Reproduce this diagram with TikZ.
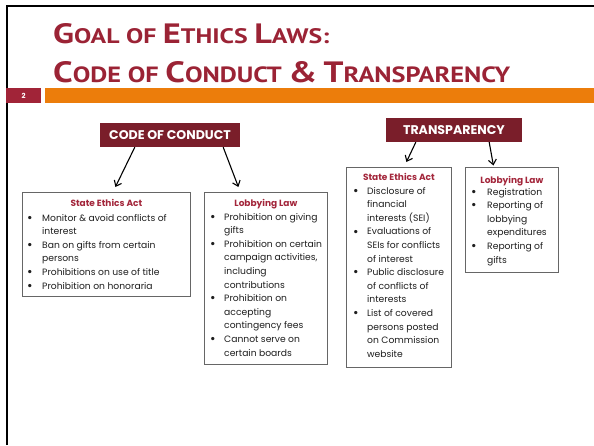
\documentclass[tikz,border=0pt]{standalone}
\usepackage{fontspec}
\setmainfont{Poppins}
\newfontfamily\titlefont{PT Sans}
\usepackage{graphicx}
\usetikzlibrary{calc,arrows.meta,positioning}

\definecolor{titlered}{HTML}{9B2335}
\definecolor{hdrfill}{HTML}{7A1E2A}
\definecolor{hdrred}{HTML}{A3263B}
\definecolor{barorange}{HTML}{EC7D0B}
\definecolor{numred}{HTML}{A12438}
\definecolor{boxgray}{HTML}{666666}
\definecolor{bodytext}{HTML}{1E1E1E}

% fake small caps for the slide title
\newcommand{\tsc}[2]{{\fontsize{26}{26}\selectfont #1}{\fontsize{19.5}{20}\selectfont #2}}
\newcommand{\bl}{\raisebox{-0.25ex}{\scalebox{1.45}{\textbullet}}}

\begin{document}
\begin{tikzpicture}[x=1pt,y=-1pt,
    heading/.style={fill=hdrfill, text=white, font=\fontsize{12.6}{12.6}\selectfont\bfseries, inner sep=0pt},
    lawbox/.style={draw=boxgray, line width=0.8pt, fill=white, anchor=north west, inner sep=0pt},
    lawhead/.style={anchor=base, text=hdrred, font=\fontsize{9}{10}\selectfont\bfseries, inner sep=0pt},
    lawlist/.style={anchor=base west, text=bodytext, font=\fontsize{9.2}{13.6}\selectfont, inner sep=0pt},
    ttl/.style={anchor=base west, inner sep=0pt, text=titlered, font=\titlefont\bfseries\fontsize{19.5}{20}\selectfont},
    arr/.style={-{Straight Barb[length=5pt,width=8pt]}, line width=1.1pt}]

    \useasboundingbox (0,0) rectangle (594,445);
    \draw[line width=2pt] (7,445) -- (7,6) -- (594,6); % slide frame

    % title
    \node[ttl] (title1) at (53,43)
        {\resizebox{276pt}{20pt}{\tsc{G}{OAL} \tsc{}{OF} \tsc{E}{THICS} \tsc{L}{AWS:}}};
    \node[ttl] (title2) at (53,82)
        {\resizebox{457pt}{21pt}{\tsc{C}{ODE} \tsc{}{OF} \tsc{C}{ONDUCT} \tsc{\&}{} \tsc{T}{RANSPARENCY}}};
    \node[fill=numred, text=white, minimum width=35pt, minimum height=15pt, inner sep=0pt,
        font=\fontsize{7}{7}\selectfont\bfseries] (slidenum) at (23.5,95.5) {2};
    \fill[barorange] (45,88) rectangle (594,103); % title bar

    % two headings
    \node[heading, minimum width=140pt, minimum height=24pt] (conduct) at (170,135) {CODE OF CONDUCT};
    \node[heading, minimum width=136pt, minimum height=24pt] (transp) at (454,130) {TRANSPARENCY};

    % boxes
    \node[lawbox, minimum width=168pt, minimum height=104pt] (seacode) at (22,192) {};
    \node[lawbox, minimum width=123pt, minimum height=172pt] (lobcode) at (204,192) {};
    \node[lawbox, minimum width=105pt, minimum height=200pt] (seatr) at (346,167) {};
    \node[lawbox, minimum width=93pt, minimum height=105pt] (lobtr) at (465,167) {};

    \node[lawhead] (seacodeh) at ($(seacode.north)+(0,14)$) {State Ethics Act};
    \node[lawhead] (lobcodeh) at ($(lobcode.north)+(0,14)$) {Lobbying Law};
    \node[lawhead] (seatrh) at ($(seatr.north)+(0,13)$) {State Ethics Act};
    \node[lawhead] (lobtrh) at ($(lobtr.north)+(0,16)$) {Lobbying Law};

    \node[lawlist] (seacodel) at ($(seacode.north west)+(5,29)$) {\begin{tabular}[t]{@{}p{15pt}@{}l@{}}
        \bl & Monitor \& avoid conflicts of\\
            & interest\\
        \bl & Ban on gifts from certain\\
            & persons\\
        \bl & Prohibitions on use of title\\
        \bl & Prohibition on honoraria
    \end{tabular}};
    \node[lawlist] (lobcodel) at ($(lobcode.north west)+(6,28)$) {\begin{tabular}[t]{@{}p{14pt}@{}l@{}}
        \bl & Prohibition on giving\\
            & gifts\\
        \bl & Prohibition on certain\\
            & campaign activities,\\
            & including\\
            & contributions\\
        \bl & Prohibition on\\
            & accepting\\
            & contingency fees\\
        \bl & Cannot serve on\\
            & certain boards
    \end{tabular}};
    \node[lawlist] (seatrl) at ($(seatr.north west)+(7,27)$) {\begin{tabular}[t]{@{}p{14pt}@{}l@{}}
        \bl & Disclosure of\\
            & financial\\
            & interests (SEI)\\
        \bl & Evaluations of\\
            & SEIs for conflicts\\
            & of interest\\
        \bl & Public disclosure\\
            & of conflicts of\\
            & interests\\
        \bl & List of covered\\
            & persons posted\\
            & on Commission\\
            & website
    \end{tabular}};
    \node[lawlist] (lobtrl) at ($(lobtr.north west)+(6,28)$) {\begin{tabular}[t]{@{}p{16pt}@{}l@{}}
        \bl & Registration\\
        \bl & Reporting of\\
            & lobbying\\
            & expenditures\\
        \bl & Reporting of\\
            & gifts
    \end{tabular}};

    % arrows
    \coordinate (seacodetip) at ($(seacode.north)+(9,-5)$);
    \coordinate (lobcodetip) at ($(lobcode.north)+(-27.5,-5)$);
    \coordinate (seatrtip) at ($(seatr.north)+(7.5,-5)$);
    \coordinate (lobtrtip) at ($(lobtr.north)+(-18.5,-1.5)$);
    \draw[arr] ($(conduct.south west)+(35,0)$) -- (seacodetip);
    \draw[arr] ($(conduct.south east)+(-17,0)$) -- (lobcodetip);
    \draw[arr] ($(transp.south west)+(30,0)$) -- (seatrtip);
    \draw[arr] ($(transp.south east)+(-33,0)$) -- (lobtrtip);
\end{tikzpicture}
\end{document}
